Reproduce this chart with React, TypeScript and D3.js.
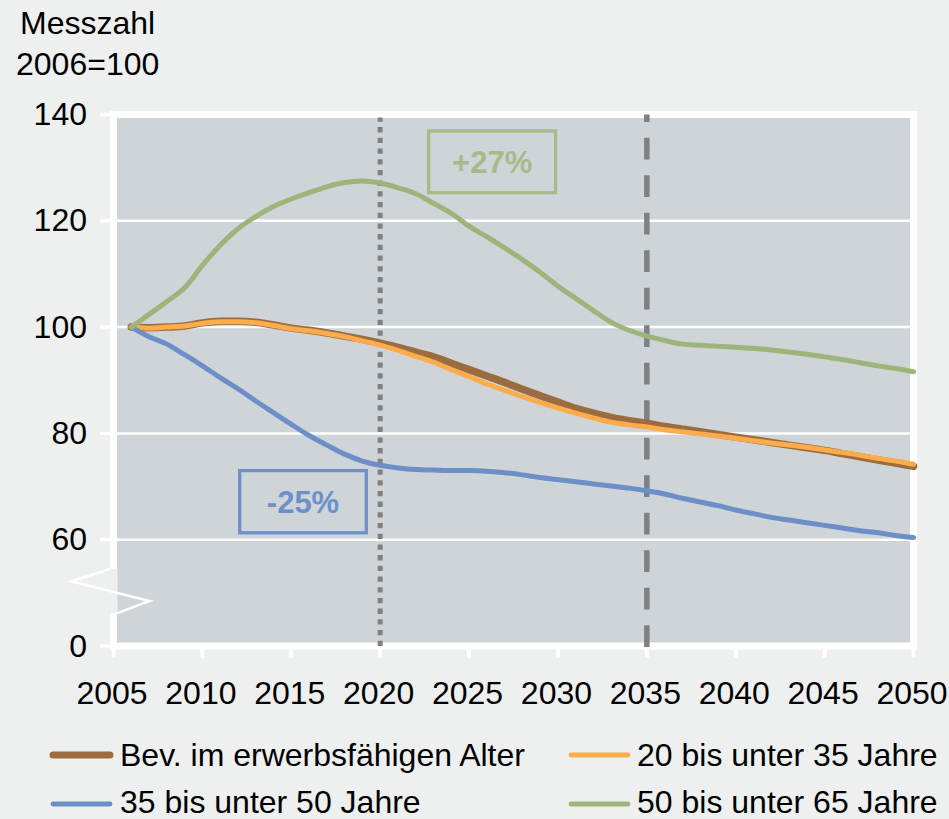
import React from "react";
import * as d3 from "d3";

const years = d3.range(2006, 2051);

const bevErwerbsfaehig = [
  100, 99.9, 100.0, 100.2, 100.8, 101.1, 101.1, 100.9, 100.4, 99.8,
  99.4, 98.9, 98.3, 97.7, 97.0, 96.2, 95.3, 94.4, 93.2, 92.0,
  90.8, 89.6, 88.3, 87.1, 85.9, 84.7, 83.8, 83.0, 82.4, 81.9,
  81.3, 80.8, 80.3, 79.8, 79.3, 78.8, 78.3, 77.8, 77.3, 76.8,
  76.2, 75.6, 75.0, 74.4, 73.8,
];

const age20to35 = [
  100, 99.8, 100.0, 100.2, 100.7, 101.0, 101.0, 100.8, 100.3, 99.7,
  99.3, 98.8, 98.2, 97.4, 96.6, 95.6, 94.5, 93.4, 92.0, 90.7,
  89.3, 88.1, 86.9, 85.8, 84.8, 83.8, 82.9, 82.1, 81.6, 81.2,
  80.7, 80.3, 79.9, 79.5, 79.1, 78.6, 78.2, 77.8, 77.4, 76.9,
  76.4, 75.9, 75.3, 74.8, 74.2,
];

const age35to50 = [
  100, 98.2, 96.8, 94.8, 92.7, 90.5, 88.4, 86.1, 83.9, 81.7,
  79.6, 77.8, 76.1, 74.8, 74.0, 73.5, 73.2, 73.1, 73.0, 73.0,
  72.9, 72.6, 72.2, 71.7, 71.3, 70.9, 70.5, 70.1, 69.7, 69.2,
  68.6, 67.8, 67.1, 66.4, 65.6, 64.9, 64.2, 63.7, 63.2, 62.7,
  62.2, 61.7, 61.3, 60.8, 60.4,
];

const age50to65 = [
  100, 102.4, 104.8, 107.4, 111.6, 115.4, 118.5, 120.8, 122.7, 124.1,
  125.3, 126.4, 127.2, 127.5, 127.1, 126.2, 125.1, 123.3, 121.4, 119.0,
  117.0, 114.9, 112.7, 110.3, 107.7, 105.4, 103.1, 100.9, 99.4, 98.3,
  97.5, 96.8, 96.6, 96.4, 96.2, 96.0, 95.7, 95.3, 94.9, 94.4,
  93.9, 93.3, 92.7, 92.2, 91.6,
];

const seriesNames = [
  "Bev. im erwerbsfähigen Alter",
  "20 bis unter 35 Jahre",
  "35 bis unter 50 Jahre",
  "50 bis unter 65 Jahre",
];

const yTicks = [0, 60, 80, 100, 120, 140];
const xTicks = d3.range(2005, 2051, 5);
const markerYears = [2020, 2035];
const annotationLabels = ["+27%", "-25%"];

const W = 949;
const H = 819;
const BG = "#eef0ef";
const PLOT = "#cfd4d8";
const FONT = "Arial, 'Liberation Sans', sans-serif";
const FS = 32;

export default function App() {
  const x = d3.scaleLinear().domain([2005, 2050]).range([113.5, 913.5]);
  // y axis is broken: the "0" tick sits one step below 60
  const breakFloor = 40;
  const yLin = d3.scaleLinear().domain([breakFloor, 140]).range([646, 114.5]);
  const y = (v: number) => yLin(v === 0 ? breakFloor : v);

  const colors = ["#9b6d3e", "#fcab4d", "#6b8fc6", "#9db57b"];
  const widths = [7.5, 5, 5, 5];
  const data = [bevErwerbsfaehig, age20to35, age35to50, age50to65];

  const line = d3
    .line<number>()
    .x((_, i) => x(years[i]))
    .y((d) => yLin(d))
    .curve(d3.curveMonotoneX);

  const left = x(2005);
  const right = x(2050);
  const top = yLin(140);
  const bottom = yLin(breakFloor);

  // axis break zone between 60 and 0
  const b1 = yLin(54.5);
  const b2 = yLin(46.2);

  const legend = [
    { i: 0, lx: 50, tx: 120, y: 755, ty: 766 },
    { i: 1, lx: 568, tx: 637, y: 755, ty: 766 },
    { i: 2, lx: 50, tx: 120, y: 804, ty: 812.5 },
    { i: 3, lx: 568, tx: 637, y: 804, ty: 812.5 },
  ];

  const boxes = [
    { label: annotationLabels[0], x0: 2022.73, x1: 2029.87, v0: 136.9, v1: 125.3, color: "#a6bb87" },
    { label: annotationLabels[1], x0: 2012.1, x1: 2019.22, v0: 73.0, v1: 61.3, color: "#6d90c8" },
  ];

  return (
    <svg width={W} height={H} style={{ position: "absolute", left: 0, top: 0, display: "block" }} fontFamily={FONT}>
      <rect x={0} y={0} width={W} height={H} fill={BG} />

      {/* plot area */}
      <rect x={left} y={top} width={right - left} height={bottom - top} fill={PLOT} stroke="#ffffff" strokeWidth={7} />

      {/* gridlines */}
      {yTicks.filter((t) => t >= 60 && t < 140).map((t) => (
        <line key={"g" + t} x1={left} x2={right} y1={y(t)} y2={y(t)} stroke="#ffffff" strokeWidth={2.5} />
      ))}

      {/* y ticks */}
      {yTicks.map((t) => (
        <line key={"yt" + t} x1={100} x2={left} y1={y(t)} y2={y(t)} stroke="#ffffff" strokeWidth={3.3} />
      ))}
      {/* x ticks */}
      {xTicks.map((t) => (
        <line key={"xt" + t} x1={x(t)} x2={x(t)} y1={bottom} y2={bottom + 12} stroke="#ffffff" strokeWidth={4} />
      ))}

      {/* axis break */}
      <rect x={left - 4} y={b1} width={8} height={b2 - b1} fill={BG} />
      <polyline
        points={`${left - 3},${b1} 71.5,${b1 + 12.5} 149.5,${b1 + 32} ${left + 4},${b2} ${left + 4},${b2 + 1}`}
        fill="none"
        stroke="#ffffff"
        strokeWidth={2.5}
        strokeLinejoin="miter"
      />

      {/* marker lines */}
      <line x1={x(markerYears[0])} x2={x(markerYears[0])} y1={bottom} y2={top + 3} stroke="#808080" strokeWidth={5} strokeDasharray="5.3,5.4" />
      <line x1={x(markerYears[1])} x2={x(markerYears[1])} y1={bottom + 1} y2={top} stroke="#808080" strokeWidth={5.5} strokeDasharray="21.7,15.8" />

      {/* series */}
      {data.map((s, i) => (
        <path key={"s" + i} d={line(s) || ""} fill="none" stroke={colors[i]} strokeWidth={widths[i]} strokeLinejoin="round" strokeLinecap="round" />
      ))}

      {/* annotations */}
      {boxes.map((b) => (
        <g key={b.label}>
          <rect x={x(b.x0)} y={yLin(b.v0)} width={x(b.x1) - x(b.x0)} height={yLin(b.v1) - yLin(b.v0)} fill="none" stroke={b.color} strokeWidth={3.3} />
          <text
            x={(x(b.x0) + x(b.x1)) / 2}
            y={(yLin(b.v0) + yLin(b.v1)) / 2 + 11}
            textAnchor="middle"
            fontSize={31}
            fontWeight="bold"
            fill={b.color}
          >
            {b.label}
          </text>
        </g>
      ))}

      {/* y labels */}
      {yTicks.map((t) => (
        <text key={"yl" + t} x={87} y={y(t) + 10.5} textAnchor="end" fontSize={FS} fill="#000">
          {t}
        </text>
      ))}
      {/* x labels */}
      {xTicks.map((t) => (
        <text key={"xl" + t} x={x(t) - 1.5} y={704} textAnchor="middle" fontSize={FS} fill="#000">
          {t}
        </text>
      ))}

      {/* axis title */}
      <text x={20} y={34} fontSize={FS} fill="#000">Messzahl</text>
      <text x={16} y={75} fontSize={FS} fill="#000">2006=100</text>

      {/* legend */}
      {legend.map((l) => (
        <g key={"lg" + l.i}>
          <line x1={l.lx + 3} x2={l.lx + 60} y1={l.y} y2={l.y} stroke={colors[l.i]} strokeWidth={l.i === 0 ? 7 : 4.8} strokeLinecap="round" />
          <text x={l.tx} y={l.ty} fontSize={FS} fill="#000">
            {seriesNames[l.i]}
          </text>
        </g>
      ))}
    </svg>
  );
}
